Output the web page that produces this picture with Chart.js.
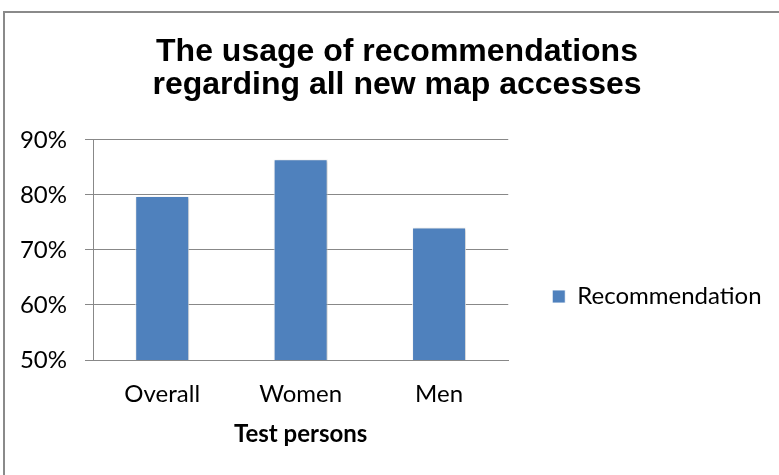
<!DOCTYPE html>
<html>
<head>
<meta charset="utf-8">
<script src="https://cdn.jsdelivr.net/npm/chart.js@4/dist/chart.umd.min.js"></script>
<style>
  html, body { margin: 0; padding: 0; background: #ffffff; }
  #wrap { position: relative; width: 779px; height: 475px; }
</style>
</head>
<body>
<div id="wrap"><canvas id="chart" width="779" height="475"></canvas></div>
<script>
// Share of new map accesses that came through a recommendation
const categories = ['Overall', 'Women', 'Men'];
const recommendation = [79.8, 86.5, 74.1];
const yTicks = [50, 60, 70, 80, 90];

const LABEL_FONT = 'Lato, "Open Sans", sans-serif';
const GRID = '#888888';

// Thin frame along the top and left edges of the chart object
const framePlugin = {
  id: 'frame',
  beforeDraw(chart) {
    const ctx = chart.ctx;
    ctx.save();
    ctx.fillStyle = '#ffffff';
    ctx.fillRect(0, 0, chart.width, chart.height);
    ctx.strokeStyle = '#8a8a8a';
    ctx.lineWidth = 2;
    ctx.beginPath();
    ctx.moveTo(4, chart.height);
    ctx.lineTo(4, 12);
    ctx.lineTo(chart.width, 12);
    ctx.stroke();
    ctx.restore();
  }
};

// Soft drop shadow under the bars
const barShadow = {
  id: 'barShadow',
  beforeDatasetDraw(chart) {
    const ctx = chart.ctx;
    ctx.save();
    ctx.shadowColor = 'rgba(0,0,0,0.28)';
    ctx.shadowBlur = 3;
    ctx.shadowOffsetX = 1;
    ctx.shadowOffsetY = 1;
  },
  afterDatasetDraw(chart) {
    chart.ctx.restore();
  }
};

// Title centred on the whole object; legend widened to the right edge
// and set a little below the plot's vertical middle
const placeBlocks = {
  id: 'placeBlocks',
  afterLayout(chart) {
    const t = chart.titleBlock;
    if (t) {
      const dx = (chart.width + 15) / 2 - (t.left + t.right) / 2;
      t.left += dx;
      t.right += dx;
    }
    const lg = chart.legend;
    if (lg) {
      lg.right = chart.width;
      lg.width = lg.right - lg.left;
      lg.top += 59;
      lg.bottom += 59;
    }
  }
};

new Chart(document.getElementById('chart'), {
  type: 'bar',
  data: {
    labels: categories,
    datasets: [{
      label: 'Recommendation',
      data: recommendation,
      backgroundColor: '#4F81BD',
      borderColor: 'rgba(255,255,255,0.85)',
      borderWidth: 1,
      barPercentage: 0.39,
      categoryPercentage: 1.0
    }]
  },
  options: {
    responsive: false,
    animation: false,
    layout: { padding: { left: 14, right: 106, top: 0, bottom: 0 } },
    plugins: {
      tooltip: { enabled: false },
      title: {
        display: true,
        text: ['The usage of recommendations', 'regarding all new map accesses'],
        color: '#000000',
        font: { family: '"Liberation Sans", Arial, sans-serif', size: 32, weight: 'bold', lineHeight: 1.03 },
        padding: { top: 36, bottom: 38 }
      },
      legend: {
        position: 'right',
        align: 'center',
        labels: {
          boxWidth: 13,
          boxHeight: 13,
          padding: 44,
          color: '#000000',
          font: { family: LABEL_FONT, size: 24 }
        }
      }
    },
    scales: {
      x: {
        grid: { display: false, drawTicks: false },
        border: { display: true, color: GRID, width: 1 },
        ticks: {
          color: '#000000',
          padding: 20,
          font: { family: LABEL_FONT, size: 24 }
        },
        title: {
          display: true,
          text: 'Test persons',
          color: '#000000',
          font: { family: LABEL_FONT, size: 24, weight: 'bold', lineHeight: 1.2 },
          padding: { top: 0, bottom: 26 }
        },
        afterFit(scale) { scale.height = 115; }
      },
      y: {
        min: yTicks[0],
        max: yTicks[yTicks.length - 1],
        afterBuildTicks(scale) { scale.ticks = yTicks.map(v => ({ value: v })); },
        grid: { color: GRID, lineWidth: 1, drawTicks: true, tickLength: 8, tickColor: GRID },
        border: { display: true, color: GRID, width: 1 },
        ticks: {
          color: '#000000',
          padding: 18,
          font: { family: LABEL_FONT, size: 24 },
          callback: v => v + '%'
        },
        afterFit(scale) { scale.width = 79; }
      }
    }
  },
  plugins: [framePlugin, barShadow, placeBlocks]
});
</script>
</body>
</html>
